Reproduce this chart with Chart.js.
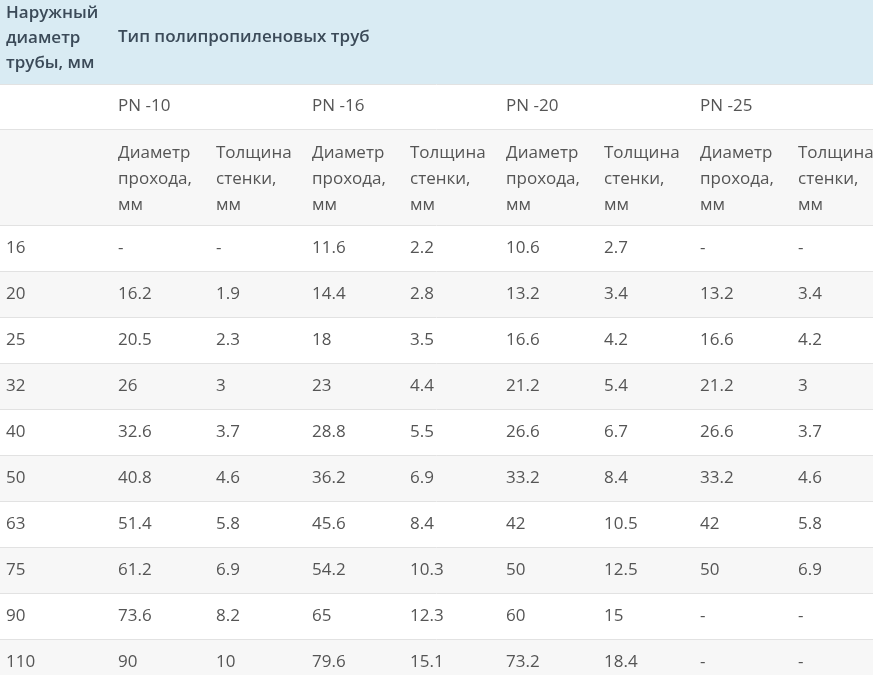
<!DOCTYPE html>
<html><head><meta charset="utf-8">
<script src="https://cdn.jsdelivr.net/npm/chart.js@4"></script>
<style>html,body{margin:0;padding:0;background:#fff}canvas{display:block}</style>
</head><body>
<canvas id="c" width="873" height="675"></canvas>
<script>
const headerCol = ["Наружный", "диаметр", "трубы, мм"];
const headerTitle = "Тип полипропиленовых труб";
const pnLabels = ["PN -10", "PN -16", "PN -20", "PN -25"];
const subHeaders = [["Диаметр","прохода,","мм"],["Толщина","стенки,","мм"]];
const outerDiameters = ["16","20","25","32","40","50","63","75","90","110"];
const pn10 = [["-","-"],["16.2","1.9"],["20.5","2.3"],["26","3"],["32.6","3.7"],["40.8","4.6"],["51.4","5.8"],["61.2","6.9"],["73.6","8.2"],["90","10"]];
const pn16 = [["11.6","2.2"],["14.4","2.8"],["18","3.5"],["23","4.4"],["28.8","5.5"],["36.2","6.9"],["45.6","8.4"],["54.2","10.3"],["65","12.3"],["79.6","15.1"]];
const pn20 = [["10.6","2.7"],["13.2","3.4"],["16.6","4.2"],["21.2","5.4"],["26.6","6.7"],["33.2","8.4"],["42","10.5"],["50","12.5"],["60","15"],["73.2","18.4"]];
const pn25 = [["-","-"],["13.2","3.4"],["16.6","4.2"],["21.2","3"],["26.6","3.7"],["33.2","4.6"],["42","5.8"],["50","6.9"],["-","-"],["-","-"]];

const colX = [6,118,216,312,410,506,604,700,798];
const groups = [pn10,pn16,pn20,pn25];

const tablePlugin = {
  id:'table',
  afterDraw(chart){
    const ctx = chart.ctx, xs = chart.scales.x, ys = chart.scales.y;
    const X = v=>xs.getPixelForValue(v), Y = v=>ys.getPixelForValue(v);
    const W = X(873);
    ctx.save();
    // backgrounds
    ctx.fillStyle = '#d9ebf3'; ctx.fillRect(X(0),Y(0),W,Y(84)-Y(0));
    ctx.fillStyle = '#f7f7f7'; ctx.fillRect(X(0),Y(129),W,Y(225)-Y(129));
    outerDiameters.forEach((d,i)=>{ if(i%2===1){ ctx.fillStyle='#f7f7f7'; ctx.fillRect(X(0),Y(225+46*i),W,46);} });
    // lines
    ctx.strokeStyle='#e2e2e2'; ctx.lineWidth=1;
    [84,129,225].concat(outerDiameters.map((d,i)=>271+46*i)).forEach(y=>{
      ctx.beginPath(); ctx.moveTo(X(0),Y(y)+0.5); ctx.lineTo(W,Y(y)+0.5); ctx.stroke();
    });
    ctx.textBaseline='middle';
    // header
    ctx.fillStyle='#3b4a58'; ctx.font='600 17px "Open Sans"';
    headerCol.forEach((t,i)=>ctx.fillText(t,X(colX[0]),Y(13+25*i)));
    ctx.fillText(headerTitle,X(colX[1]),Y(37));
    ctx.fillStyle='#555'; ctx.font='17px "Open Sans"';
    pnLabels.forEach((t,i)=>ctx.fillText(t,X(colX[1+2*i]),Y(106)));
    for(let g=0; g<4; g++) for(let k=0;k<2;k++)
      subHeaders[k].forEach((t,j)=>ctx.fillText(t,X(colX[1+2*g+k]),Y(153+26*j)));
    outerDiameters.forEach((d,i)=>{
      const y=Y(248+46*i);
      ctx.fillText(d,X(colX[0]),y);
      groups.forEach((grp,g)=>{ ctx.fillText(grp[i][0],X(colX[1+2*g]),y); ctx.fillText(grp[i][1],X(colX[2+2*g]),y); });
    });
    ctx.restore();
  }
};

new Chart(document.getElementById('c'),{
  type:'scatter',
  data:{datasets:[{data:[],pointRadius:0}]},
  options:{
    responsive:false, animation:false, devicePixelRatio:1,
    layout:{padding:0},
    plugins:{legend:{display:false},tooltip:{enabled:false}},
    scales:{
      x:{type:'linear',min:0,max:873,display:false},
      y:{type:'linear',min:0,max:675,reverse:true,display:false}
    }
  },
  plugins:[tablePlugin]
});
</script>
</body></html>
